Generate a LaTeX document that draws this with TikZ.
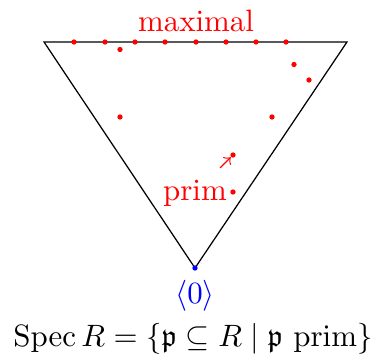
\documentclass[tikz,border=0pt]{standalone}
\usepackage{amsmath}
\usepackage{amssymb}
\begin{document}
\begin{tikzpicture}[x=0.3236pt,y=-0.3236pt,
  pt/.style={circle,fill=red,inner sep=0pt,minimum size=1.7pt},
  lbl/.style={anchor=base,inner sep=0pt}]
\useasboundingbox (0,0) rectangle (377,361);
\coordinate (A) at (44,42);
\coordinate (B) at (347,42);
\coordinate (C) at (195,268);
\draw (A) -- (B) -- (C) -- cycle;
\foreach \x [count=\i] in {74,105,135,165,196,226,256,286}
  \node[pt] (m\i) at (\x,42) {};
\node[pt] (d1) at (120,49.5) {};
\node[pt] (d2) at (294,64.5) {};
\node[pt] (d3) at (309,80) {};
\node[pt] (d4) at (120,117) {};
\node[pt] (d5) at (272,117) {};
\node[pt] (d6) at (233,155) {};
\node[pt] (d7) at (233,192) {};
\node[circle,fill=blue,inner sep=0pt,minimum size=1.7pt] (z) at (C) {};
\coordinate (t) at (220,168);
\draw[red,->] (t) -- (d6);
\node[lbl,red] (max) at (196,31.5) {maximal};
\node[lbl,red] (prim) at (195,201) {prim};
\node[lbl,blue] (zero) at (195,304) {$\langle 0\rangle$};
\node[lbl] (spec) at (193,347) {$\operatorname{Spec}R=\{\mathfrak{p}\subseteq R\mid \mathfrak{p}\ \mathrm{prim}\}$};
\end{tikzpicture}
\end{document}
